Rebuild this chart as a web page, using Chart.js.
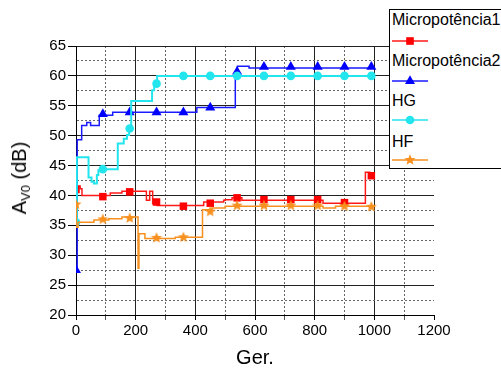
<!DOCTYPE html>
<html>
<head>
<meta charset="utf-8">
<script src="https://cdn.jsdelivr.net/npm/chart.js@4.4.1/dist/chart.umd.min.js"></script>
<style>
	body { margin: 0; background: #fff; }
	#wrap { position: relative; width: 501px; height: 370px; font-family: "Liberation Sans", Arial, sans-serif; color: #000; }
	#chart { position: absolute; left: 0; top: 0; }
	#yTitle { position: absolute; left: 19px; top: 178px; transform: translate(-50%, -50%) rotate(-90deg); font-size: 20px; white-space: nowrap; line-height: 24px; }
	#yTitle sub { font-size: 13px; vertical-align: -4px; line-height: 0; }
	#legende { position: absolute; left: 389px; top: 9px; width: 130px; height: 158px; border: 1px solid #000; background: #fff; }
	#legende .txt { position: absolute; left: 2px; font-size: 16px; line-height: 19px; white-space: nowrap; }
	#legende svg { position: absolute; left: 2px; }
</style>
</head>
<body>
<div id="wrap">
	<canvas id="chart" width="501" height="370"></canvas>
	<div id="yTitle">A<sub>V0</sub> (dB)</div>
	<div id="legende"></div>
</div>
<script>
// Données
var seriesNames = ["Micropotência1", "Micropotência2", "HG", "HF"];
var xTickLabels = [0, 200, 400, 600, 800, 1000, 1200];
var yTickLabels = [20, 25, 30, 35, 40, 45, 50, 55, 60, 65];

// générations où sont posés les symboles
var markerGen = [0, 90, 180, 270, 360, 450, 540, 630, 720, 810, 900, 990];

var m1Marks = [41.0, 39.8, 40.6, 38.9, 38.2, 38.7, 39.6, 39.3, 39.3, 39.3, 38.8, 43.3];
var m2Marks = [27.5, 53.6, 53.9, 53.9, 53.9, 54.7, 60.7, 61.5, 61.5, 61.5, 61.5, 61.5];
var hgMarks = [35.5, 44.4, 51.2, 58.7, 60.0, 60.0, 60.0, 60.0, 60.0, 60.0, 60.0, 60.0];
var hfMarks = [38.5, 36.0, 36.2, 32.9, 33.0, 37.3, 38.3, 38.3, 38.3, 38.3, 38.2, 38.1];

// courbes en escalier (génération du changement, nouvelle valeur)
var m1StepGen = [0, 8, 14, 20, 115, 154, 236, 247, 257, 272, 428, 495, 500, 523, 556, 828, 970, 985, 1000];
var m1StepVal = [41.3, 41.6, 41.1, 40.0, 40.4, 40.7, 39.2, 40.7, 38.6, 38.3, 38.9, 39.2, 39.3, 39.6, 39.2, 38.7, 43.9, 43.3, 43.3];

var m2StepGen = [0, 4, 19, 36, 49, 78, 123, 405, 534, 541, 580, 1000];
var m2StepVal = [27.5, 49.3, 51.7, 52.2, 51.7, 53.4, 53.9, 54.7, 60.6, 61.6, 61.3, 61.3];

var hgStepGen = [0, 3, 42, 52, 60, 70, 75, 85, 140, 160, 171, 178, 185, 255, 262, 272, 1000];
var hgStepVal = [35.5, 46.4, 43.0, 42.3, 42.0, 43.4, 44.2, 44.4, 48.7, 49.5, 50.1, 51.2, 55.8, 57.6, 58.7, 60.0, 60.0];

var hfStepGen = [0, 1, 7, 60, 110, 154, 208, 211, 231, 333, 424, 456, 500, 828, 870, 1000];
var hfStepVal = [38.5, 34.7, 35.5, 35.9, 36.1, 36.4, 27.8, 33.6, 32.8, 33.0, 37.6, 37.9, 38.2, 37.9, 38.2, 38.1];

var couleurs = ["#ff0000", "#0000ff", "#22e5ee", "#f7901e"];
var lignes = ["#ff1a1a", "#1a1aff", "#22e5ee", "#f7901e"];

// étoile pleine (le 'star' de Chart.js est seulement tracé)
function makeStar(color, r) {
	var c = document.createElement('canvas');
	var s = Math.ceil(r * 2 + 2);
	c.width = s;
	c.height = s;
	var ctx = c.getContext('2d');
	ctx.fillStyle = color;
	ctx.beginPath();
	for (var i = 0; i < 10; i++) {
		var rad = (i % 2 === 0) ? r : r * 0.45;
		var a = -Math.PI / 2 + i * Math.PI / 5;
		ctx.lineTo(s / 2 + rad * Math.cos(a), s / 2 + rad * Math.sin(a));
	}
	ctx.closePath();
	ctx.fill();
	return c;
}

var symboles = ['rect', 'triangle', 'circle', makeStar(couleurs[3], 5.8)];
var tailles = [5.3, 5.8, 4.3, 5];

function toPoints(xs, ys) {
	var pts = [];
	for (var i = 0; i < xs.length; i++) {
		pts.push({ x: xs[i], y: ys[i] });
	}
	return pts;
}

function stepDataset(i, gens, vals) {
	return {
		label: seriesNames[i],
		data: toPoints(gens, vals),
		showLine: true,
		borderColor: lignes[i],
		borderWidth: i == 2 ? 2 : 1.5,
		stepped: 'before',
		pointRadius: 0,
		fill: false,
		order: 7 - i * 2
	};
}

function markerDataset(i, marks) {
	return {
		label: seriesNames[i] + ' pts',
		data: toPoints(markerGen, marks),
		showLine: false,
		pointStyle: symboles[i],
		pointRadius: tailles[i],
		pointBackgroundColor: couleurs[i],
		pointBorderColor: couleurs[i],
		pointBorderWidth: 0,
		order: 6 - i * 2
	};
}

var datasets = [
	stepDataset(0, m1StepGen, m1StepVal), markerDataset(0, m1Marks),
	stepDataset(1, m2StepGen, m2StepVal), markerDataset(1, m2Marks),
	stepDataset(2, hgStepGen, hgStepVal), markerDataset(2, hgMarks),
	stepDataset(3, hfStepGen, hfStepVal), markerDataset(3, hfMarks)
];

function isMajor(list, v) {
	return list.indexOf(Math.round(v * 10) / 10) >= 0;
}

var ctxChart = document.getElementById('chart');
var chart = new Chart(ctxChart, {
	type: 'scatter',
	data: { datasets: datasets },
	options: {
		responsive: false,
		animation: false,
		layout: { padding: { left: 0, right: 67, top: 46, bottom: 0 } },
		plugins: { legend: { display: false }, tooltip: { enabled: false } },
		scales: {
			x: {
				type: 'linear',
				min: 0,
				max: 1200,
				afterFit: function(scale) { scale.height = 55; },
				ticks: {
					stepSize: 100,
					autoSkip: false,
					maxRotation: 0,
					padding: 2,
					color: '#000',
					font: { family: 'Liberation Sans', size: 15 },
					callback: function(v) { return isMajor(xTickLabels, v) ? v : ''; }
				},
				grid: {
					tickLength: 5,
					lineWidth: 1,
					color: function(c) {
						if (!c.tick || c.tick.value == 1200) return 'rgba(0,0,0,0)';
						return isMajor(xTickLabels, c.tick.value) ? '#222' : '#666';
					},
					tickColor: function(c) { return c.tick && isMajor(xTickLabels, c.tick.value) ? '#000' : '#555'; }
				},
				border: {
					color: '#000',
					width: 1,
					dash: function(c) { return c.tick && !isMajor(xTickLabels, c.tick.value) ? [2, 2] : []; }
				},
				title: {
					display: true,
					text: 'Ger.',
					color: '#000',
					padding: { top: 0, bottom: 0 },
					font: { family: 'Liberation Sans', size: 20 }
				}
			},
			y: {
				min: 20,
				max: 65,
				afterFit: function(scale) { scale.width = 76; },
				ticks: {
					stepSize: 2.5,
					autoSkip: false,
					padding: 2,
					color: '#000',
					font: { family: 'Liberation Sans', size: 15 },
					callback: function(v) { return isMajor(yTickLabels, v) ? v : ''; }
				},
				grid: {
					tickLength: 8,
					lineWidth: 1,
					color: function(c) {
						if (!c.tick) return 'rgba(0,0,0,0)';
						return isMajor(yTickLabels, c.tick.value) ? '#222' : '#666';
					},
					tickColor: function(c) { return c.tick && isMajor(yTickLabels, c.tick.value) ? '#000' : 'rgba(0,0,0,0)'; }
				},
				border: {
					color: '#000',
					width: 1,
					dash: function(c) { return c.tick && !isMajor(yTickLabels, c.tick.value) ? [2, 2] : []; }
				}
			}
		}
	}
});

// Légende faite à la main (texte au-dessus, trait + symbole dessous)
function symboleSvg(i) {
	var c = couleurs[i];
	var svg = '<svg width="37" height="14" viewBox="0 0 37 14">';
	svg += '<line x1="0" y1="7" x2="36" y2="7" stroke="' + lignes[i] + '" stroke-width="1.5"/>';
	if (i == 0) {
		svg += '<rect x="14.2" y="3.2" width="7.6" height="7.6" fill="' + c + '"/>';
	} else if (i == 1) {
		svg += '<polygon points="18,1.2 23,9.9 13,9.9" fill="' + c + '"/>';
	} else if (i == 2) {
		svg += '<circle cx="18" cy="7" r="4.3" fill="' + c + '"/>';
	} else {
		var pts = [];
		for (var k = 0; k < 10; k++) {
			var rad = (k % 2 === 0) ? 5.8 : 2.6;
			var a = -Math.PI / 2 + k * Math.PI / 5;
			pts.push((18 + rad * Math.cos(a)).toFixed(2) + ',' + (7 + rad * Math.sin(a)).toFixed(2));
		}
		svg += '<polygon points="' + pts.join(' ') + '" fill="' + c + '"/>';
	}
	return svg + '</svg>';
}

var legende = document.getElementById('legende');
var html = '';
for (var i = 0; i < seriesNames.length; i++) {
	html += '<div class="txt" style="top:' + (0 + i * 40.5) + 'px">' + seriesNames[i] + '</div>';
	var svgTop = 40.7 - 7 - 10 + i * 39.8;
	html += symboleSvg(i).replace('<svg ', '<svg style="top:' + svgTop + 'px" ');
}
legende.innerHTML = html;
</script>
</body>
</html>
